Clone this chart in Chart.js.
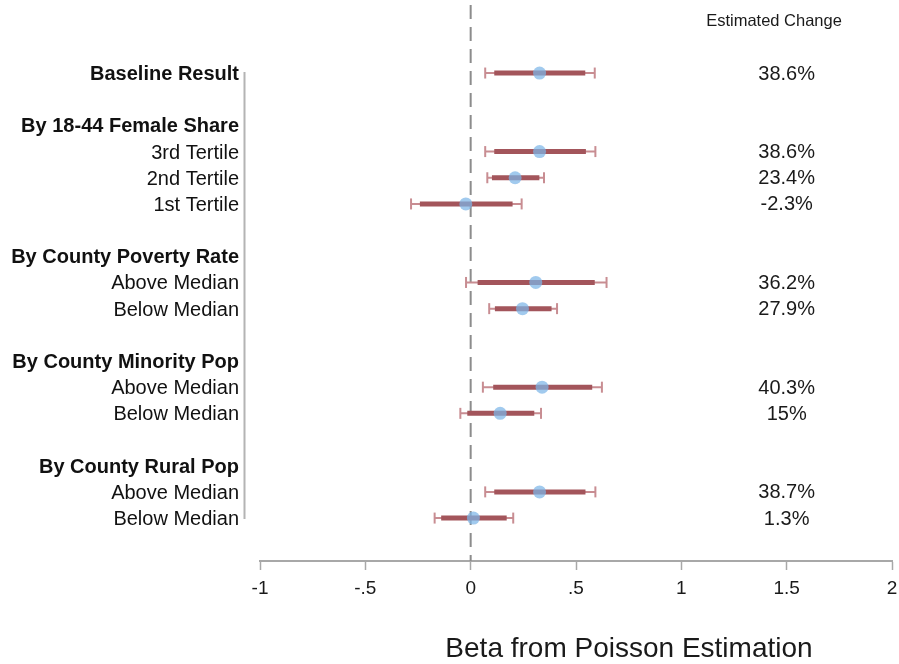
<!DOCTYPE html>
<html>
<head>
<meta charset="utf-8">
<script src="https://cdn.jsdelivr.net/npm/chart.js@4/dist/chart.umd.min.js"></script>
<style>
  html, body { margin: 0; padding: 0; background: #ffffff; }
  #wrap { width: 899px; height: 664px; position: relative; }
</style>
</head>
<body>
<div id="wrap"><canvas id="c" width="899" height="664"></canvas></div>
<script>
// ---------------- data ----------------
const rowLabels = [
  '', '', 'Baseline Result', '',
  'By 18-44 Female Share', '3rd Tertile', '2nd Tertile', '1st Tertile', '',
  'By County Poverty Rate', 'Above Median', 'Below Median', '',
  'By County Minority Pop', 'Above Median', 'Below Median', '',
  'By County Rural Pop', 'Above Median', 'Below Median'
];
const headerRows = [2, 4, 9, 13, 17];
const dataRows   = [2, 5, 6, 7, 10, 11, 14, 15, 18, 19];
const beta   = [0.327, 0.327, 0.211, -0.023, 0.309, 0.246, 0.339, 0.140, 0.327, 0.013];
const ci90Lo = [0.112, 0.112, 0.101, -0.241, 0.033, 0.115, 0.107, -0.016, 0.112, -0.140];
const ci90Hi = [0.544, 0.547, 0.326, 0.199, 0.589, 0.384, 0.577, 0.302, 0.545, 0.171];
const ci95Lo = [0.069, 0.069, 0.079, -0.283, -0.022, 0.088, 0.058, -0.049, 0.069, -0.171];
const ci95Hi = [0.589, 0.592, 0.348, 0.242, 0.645, 0.410, 0.623, 0.334, 0.592, 0.202];
const pctLabels = ['38.6%', '38.6%', '23.4%', '-2.3%', '36.2%', '27.9%', '40.3%', '15%', '38.7%', '1.3%'];
const pctHeader = 'Estimated Change';
const pctX = 1.5;          // x value where percentages are centred
const pctHeaderX = 1.44;   // x value where header is centred
const pctHeaderRow = 0;
const xTickValues = [-1, -0.5, 0, 0.5, 1, 1.5, 2];
const xTickLabels = ['-1', '-.5', '0', '.5', '1', '1.5', '2'];
const xTitle = 'Beta from Poisson Estimation';
const refLineX = 0;
const yMin = -0.79, yMax = 20.64;
const refLineTop = -0.6;

// ---------------- build datasets ----------------
function segments(lo, hi) {
  const out = [];
  dataRows.forEach((r, i) => {
    out.push({x: lo[i], y: r});
    out.push({x: hi[i], y: r});
    out.push({x: hi[i], y: null});
  });
  return out;
}
const capData = [];
dataRows.forEach((r, i) => { capData.push({x: ci95Lo[i], y: r}); capData.push({x: ci95Hi[i], y: r}); });
const pointData = dataRows.map((r, i) => ({x: beta[i], y: r}));

const FONT = "'Liberation Sans', Arial, Helvetica, sans-serif";
const thinCol = '#c88d92';
const thickCol = '#a3555b';

const textPlugin = {
  id: 'textPlugin',
  afterDraw(chart) {
    const {ctx, scales: {x, y}, chartArea} = chart;
    ctx.save();
    // y axis line spanning data rows
    ctx.strokeStyle = '#b4b4b4';
    ctx.lineWidth = 2;
    ctx.beginPath();
    const ax = chartArea.left - 15.5;
    ctx.moveTo(ax, y.getPixelForValue(dataRows[0]) - 1);
    ctx.lineTo(ax, y.getPixelForValue(dataRows[dataRows.length - 1]) + 1);
    ctx.stroke();
    // percentages
    ctx.fillStyle = '#1a1a1a';
    ctx.textAlign = 'center';
    ctx.textBaseline = 'middle';
    ctx.font = '20px ' + FONT;
    dataRows.forEach((r, i) => {
      ctx.fillText(pctLabels[i], x.getPixelForValue(pctX), y.getPixelForValue(r) + 1);
    });
    ctx.font = '16.5px ' + FONT;
    ctx.fillText(pctHeader, x.getPixelForValue(pctHeaderX), y.getPixelForValue(pctHeaderRow) + 1);
    // x title
    ctx.font = '28px ' + FONT;
    ctx.fillText(xTitle, 629, 649);
    ctx.restore();
  }
};

new Chart(document.getElementById('c'), {
  type: 'line',
  data: {
    datasets: [
      { data: pointData, showLine: false, pointRadius: 6.5, pointHoverRadius: 6.5,
        pointBackgroundColor: 'rgba(125,182,232,0.72)', pointBorderWidth: 0, order: 0 },
      { data: segments(ci90Lo, ci90Hi), borderColor: thickCol, borderWidth: 5, pointRadius: 0,
        spanGaps: false, order: 1 },
      { data: capData, showLine: false, pointStyle: 'line', rotation: 90, pointRadius: 5.5,
        pointBorderColor: thinCol, pointBorderWidth: 2, order: 2 },
      { data: segments(ci95Lo, ci95Hi), borderColor: thinCol, borderWidth: 2, pointRadius: 0,
        spanGaps: false, order: 3 },
      { data: [{x: refLineX, y: refLineTop}, {x: refLineX, y: yMax}], borderColor: '#8c8c8c',
        borderWidth: 2, borderDash: [14, 8], pointRadius: 0, clip: false, order: 4 }
    ]
  },
  options: {
    responsive: false,
    animation: false,
    events: [],
    layout: { autoPadding: false, padding: { left: 0, right: 7, top: 0, bottom: 0 } },
    plugins: { legend: { display: false }, tooltip: { enabled: false }, title: { display: false } },
    scales: {
      x: {
        type: 'linear', min: -1, max: 2,
        afterBuildTicks: (s) => { s.ticks = xTickValues.map(v => ({value: v})); },
        afterFit: (s) => { s.height = 103; s.paddingLeft = 0; s.paddingRight = 0; },
        border: { display: true, color: '#a8a8a8', width: 2 },
        grid: { display: true, drawOnChartArea: false, drawTicks: true, tickLength: 9,
                tickColor: '#a8a8a8', tickWidth: 1.5 },
        ticks: {
          autoSkip: false, maxRotation: 0, padding: 7, color: '#1a1a1a',
          font: { family: FONT, size: 19 },
          callback: (v) => { const i = xTickValues.indexOf(v); return i >= 0 ? xTickLabels[i] : ''; }
        }
      },
      y: {
        type: 'linear', min: yMin, max: yMax, reverse: true,
        afterBuildTicks: (s) => { s.ticks = rowLabels.map((_, i) => ({value: i})); },
        afterFit: (s) => { s.width = 260; s.paddingTop = 0; s.paddingBottom = 0; },
        border: { display: false },
        grid: { display: false, drawTicks: false },
        ticks: {
          autoSkip: false, padding: 21, labelOffset: 1.5, color: '#111111',
          font: (ctx) => ({ family: FONT, size: 20,
                            weight: (ctx.tick && headerRows.includes(ctx.tick.value)) ? 'bold' : 'normal' }),
          callback: (v) => rowLabels[v] || ''
        }
      }
    }
  },
  plugins: [textPlugin]
});
</script>
</body>
</html>
